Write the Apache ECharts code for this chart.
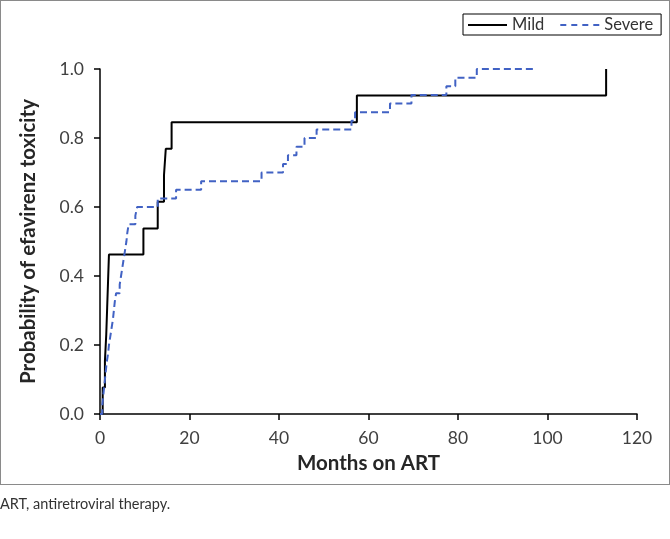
<!DOCTYPE html>
<html>
<head>
<meta charset="utf-8">
<script src="https://cdn.jsdelivr.net/npm/echarts@6/dist/echarts.min.js"></script>
<style>
html,body{margin:0;padding:0;background:#fff;}
#frame{position:absolute;left:0;top:0;width:668px;height:483px;border:1px solid #8a8a8a;}
#chart{position:absolute;left:0;top:0;width:670px;height:539px;}
#cap{position:absolute;left:0;top:495px;font-family:Lato,'Open Sans',sans-serif;font-size:14.5px;color:#333;}
</style>
</head>
<body>
<div id="frame"></div>
<div id="chart"></div>
<div id="cap">ART, antiretroviral therapy.</div>
<script>
// Kaplan-Meier style cumulative probability (months, probability)
const mildMonths = [0, 0.6, 1.1, 1.4, 1.6, 1.8, 2.0, 9.7, 12.9, 14.3, 14.7, 16.0, 57.4, 113.1];
const mildProb   = [0, 0.077, 0.154, 0.231, 0.308, 0.385, 0.462, 0.538, 0.615, 0.692, 0.769, 0.846, 0.923, 1.0];

const severeMonths = [0, 0.5, 0.7, 0.9, 1.1, 1.3, 1.5, 1.8, 2.0, 2.3, 2.6, 2.9, 3.1, 3.3, 3.6, 4.4, 4.7, 5.0, 5.3, 5.6, 5.9, 6.1, 6.4, 7.9, 8.3,
  12.9, 17.0, 22.6, 36.1, 40.9, 42.0, 43.9, 45.7, 48.4, 56.2, 57.0, 64.8, 69.6, 77.4, 79.4, 84.2, 96.8];
const severeProb   = [0, 0.025, 0.05, 0.075, 0.1, 0.125, 0.15, 0.175, 0.2, 0.225, 0.25, 0.275, 0.3, 0.325, 0.35, 0.375, 0.4, 0.425, 0.45, 0.475, 0.5, 0.525, 0.55, 0.575, 0.6,
  0.625, 0.65, 0.675, 0.7, 0.725, 0.75, 0.775, 0.8, 0.825, 0.85, 0.875, 0.9, 0.925, 0.95, 0.975, 1.0, 1.0];

const seriesNames = ['Mild', 'Severe'];
const xTitle = 'Months on ART';
const yTitle = 'Probability of efavirenz toxicity';

const zip = (a, b) => a.map((v, i) => [v, b[i]]);
const FONT = 'Lato, "Open Sans", sans-serif';
const BLUE = '#4162c4';

const chart = echarts.init(document.getElementById('chart'), null, {renderer: 'canvas'});
chart.setOption({
  animation: false,
  backgroundColor: 'transparent',
  grid: {left: 100, right: 33, top: 69, bottom: 125, containLabel: false},
  legend: {
    left: 463, top: 14,
    data: [
      {name: seriesNames[0], icon: 'path://M0,0H39V2H0Z'},
      {name: seriesNames[1], icon: 'path://M0,0H6V2H0Z M11,0H17V2H11Z M22,0H28V2H22Z M33,0H39V2H33Z'}
    ],
    borderColor: '#000', borderWidth: 1,
    padding: [2, 8, 1, 5],
    itemWidth: 39, itemHeight: 2, itemGap: 16,
    textStyle: {fontFamily: FONT, fontSize: 16.5, color: '#333', lineHeight: 18}
  },
  xAxis: {
    type: 'value', min: 0, max: 120, interval: 20,
    name: xTitle, nameLocation: 'middle', nameGap: 39,
    nameTextStyle: {fontFamily: FONT, fontSize: 20.5, fontWeight: 'bold', color: '#262626'},
    axisLine: {show: true, onZero: false, lineStyle: {color: '#000', width: 1.5}},
    axisTick: {show: true, length: 6, lineStyle: {color: '#000', width: 1.5}},
    axisLabel: {margin: 15, fontFamily: FONT, fontSize: 17.5, color: '#404040'},
    splitLine: {show: false}
  },
  yAxis: {
    type: 'value', min: 0, max: 1, interval: 0.2,
    name: yTitle, nameLocation: 'middle', nameGap: 61,
    nameTextStyle: {fontFamily: FONT, fontSize: 20.5, fontWeight: 'bold', color: '#262626'},
    axisLine: {show: true, onZero: false, lineStyle: {color: '#000', width: 1.5}},
    axisTick: {show: true, length: 6, lineStyle: {color: '#000', width: 1.5}},
    axisLabel: {margin: 16, fontFamily: FONT, fontSize: 17.5, color: '#404040', formatter: v => v.toFixed(1)},
    splitLine: {show: false}
  },
  series: [
    {
      name: seriesNames[0], type: 'line', step: 'end', showSymbol: false, symbol: 'none',
      data: zip(mildMonths, mildProb),
      itemStyle: {color: '#000'},
      lineStyle: {color: '#000', width: 2}
    },
    {
      name: seriesNames[1], type: 'line', step: 'end', showSymbol: false, symbol: 'none',
      data: zip(severeMonths, severeProb),
      itemStyle: {color: BLUE},
      lineStyle: {color: BLUE, width: 2, type: [7, 4]}
    }
  ]
});
</script>
</body>
</html>
